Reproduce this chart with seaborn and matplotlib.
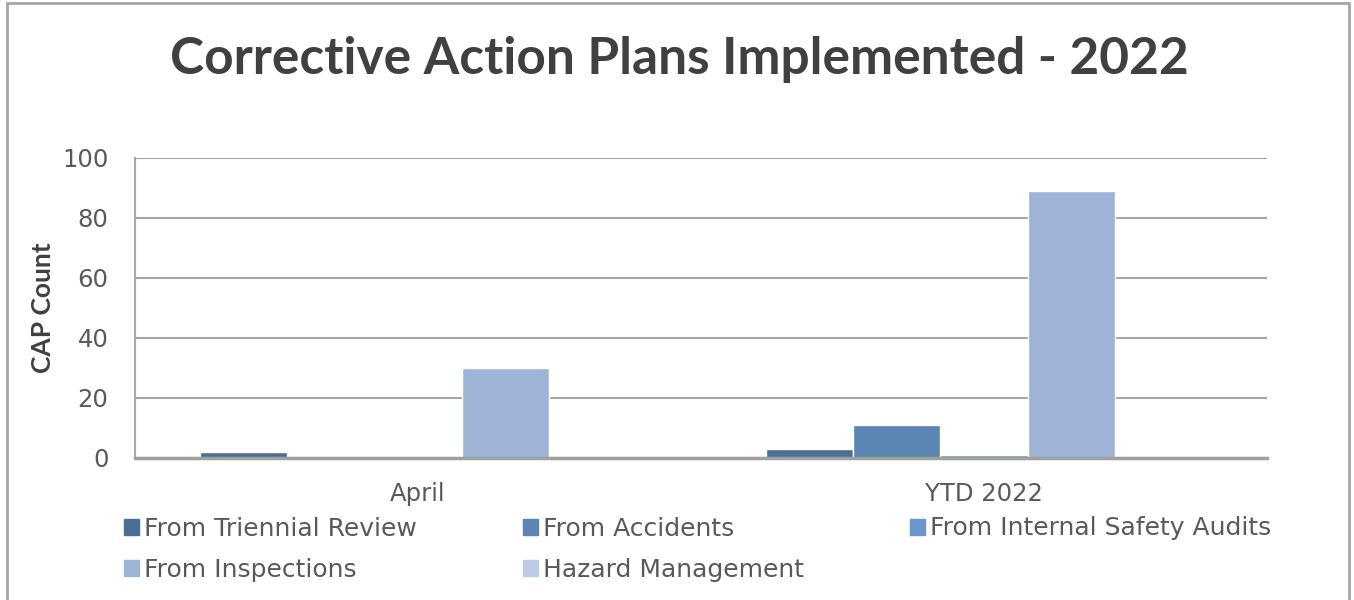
import pandas as pd
import matplotlib.pyplot as plt
import seaborn as sns
from matplotlib.patches import Rectangle

# Datos
periods = ['April', 'YTD 2022']
series = ['From Triennial Review', 'From Accidents', 'From Internal Safety Audits',
          'From Inspections', 'Hazard Management']
triennial = [2, 3]
accidents = [0, 11]
internal_audits = [0, 1]
inspections = [30, 89]
hazard = [0, 0]

colors = ['#4a6f96', '#5b85b3', '#6a97c9', '#9db4d7', '#bccce4']

rows = []
for name, vals in zip(series, [triennial, accidents, internal_audits, inspections, hazard]):
    for p, v in zip(periods, vals):
        rows.append({'period': p, 'source': name, 'count': v})
df = pd.DataFrame(rows)

sns.set_style('white')
plt.rcParams['font.family'] = ['DejaVu Sans']

fig = plt.figure(figsize=(13.54, 6), dpi=100)
ax = fig.add_axes([0.0997, 0.2367, 0.836, 0.5])

sns.barplot(data=df, x='period', y='count', hue='source', hue_order=series,
            palette=colors, width=0.77, saturation=1, ax=ax, legend=False)

ax.set_ylim(0, 100)
ax.set_yticks(range(0, 101, 20))
ax.grid(axis='y', color='#a6a6a6', linewidth=1.5)
ax.set_axisbelow(True)
for s in ['top', 'right']:
    ax.spines[s].set_visible(False)
ax.spines['left'].set_color('#a6a6a6')
ax.spines['left'].set_linewidth(1.5)
ax.spines['bottom'].set_color('#a0a0a0')
ax.spines['bottom'].set_linewidth(2.5)

ax.tick_params(axis='both', length=0, labelsize=17.5, colors='#595959')
ax.tick_params(axis='y', pad=19)
ax.tick_params(axis='x', pad=17)
ax.set_xlabel('')
ax.set_ylabel('CAP Count', fontsize=19, fontweight='bold', color='#404040',
              family='Lato')
ax.yaxis.set_label_coords(-0.071, 0.5)

fig.suptitle('Corrective Action Plans Implemented - 2022', x=0.502, y=0.94,
             fontsize=37, fontweight='bold', color='#404040', family='Lato')

# Leyenda en filas, como en el original
handles = [Rectangle((0, 0), 1, 1, color=c) for c in colors]
order = [0, 3, 1, 4, 2]
fig.legend([handles[i] for i in order], [series[i] for i in order],
           loc='upper left', bbox_to_anchor=(0.082, 0.16), ncol=3, frameon=False,
           fontsize=18, labelcolor='#595959', handlelength=0.6, handleheight=0.6,
           handletextpad=0.2, columnspacing=4.25, labelspacing=0.68, borderpad=0)

# Marco exterior del gráfico
fig.patches.append(Rectangle((7 / 1354, -0.05), 1342 / 1354, 1.045, transform=fig.transFigure,
                             fill=False, edgecolor='#a6a6a6', linewidth=2))

fig.savefig('out.png', dpi=100)
